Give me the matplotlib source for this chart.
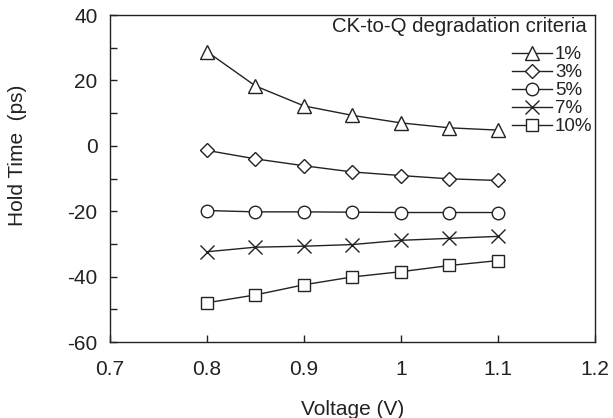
import matplotlib as mpl
mpl.use('Agg')
import matplotlib.pyplot as plt
from matplotlib.ticker import MultipleLocator, FuncFormatter

plt.rcParams['font.family'] = ['Liberation Sans', 'DejaVu Sans']
plt.rcParams['axes.unicode_minus'] = False

# Voltage sweep and hold time (ps) per degradation criterion.
voltage = [0.8, 0.85, 0.9, 0.95, 1.0, 1.05, 1.1]
hold1 = [28.8, 18.3, 12.2, 9.3, 7.0, 5.5, 4.8]
hold3 = [-1.4, -4.0, -6.1, -8.0, -9.1, -10.1, -10.6]
hold5 = [-19.8, -20.2, -20.2, -20.3, -20.4, -20.4, -20.4]
hold7 = [-32.4, -31.0, -30.7, -30.2, -28.9, -28.3, -27.7]
hold10 = [-48.0, -45.6, -42.5, -40.1, -38.5, -36.6, -35.1]

labels = ['1%', '3%', '5%', '7%', '10%']
markers = ['^', 'D', 'o', 'x', 's']
sizes = [10, 7, 9, 10, 9]

def fmt(v, pos):
    s = '%.1f' % v
    return '1' if s == '1.0' else s

fig = plt.figure(figsize=(6.13, 4.18), dpi=100)
ax = fig.add_axes([0.1794, 0.1818, 0.7912, 0.7823])

for ys, lab, m, ms in zip([hold1, hold3, hold5, hold7, hold10], labels, markers, sizes):
    ax.plot(voltage, ys, color='#222222', lw=1.0, marker=m, ms=ms,
            mfc='white', mec='#222222', mew=1.0, label=lab)

ax.set_xlim(0.7, 1.2)
ax.set_ylim(-60, 40)
ax.xaxis.set_major_locator(MultipleLocator(0.1))
ax.xaxis.set_major_formatter(FuncFormatter(fmt))
ax.yaxis.set_major_locator(MultipleLocator(20))
ax.yaxis.set_minor_locator(MultipleLocator(10))
ax.tick_params(which='both', direction='in', length=5, width=1, labelsize=15,
               color='#222222', labelcolor='#222222')
ax.tick_params(axis='y', pad=9)
ax.tick_params(axis='x', pad=13)
for s in ax.spines.values():
    s.set_linewidth(1.0)
    s.set_color('#222222')

ax.set_xlabel('Voltage (V)', fontsize=15, labelpad=15, color='#222222')
ax.set_ylabel('Hold Time  (ps)', fontsize=15, color='#222222')
ax.yaxis.set_label_coords(-0.172, 0.572)

fig.text(587 / 613, 1 - 27 / 418, 'CK-to-Q degradation criteria', fontsize=14.7,
         ha='right', va='center', color='#222222')
leg = ax.legend(loc='upper left', bbox_to_anchor=(512 / 613, 1 - 46 / 418),
                bbox_transform=fig.transFigure, frameon=False, fontsize=13.5,
                handlelength=2.15, handletextpad=0.15, labelspacing=0.05,
                borderaxespad=0, borderpad=0)
for t in leg.get_texts():
    t.set_color('#222222')

plt.savefig('out.png', dpi=100)
